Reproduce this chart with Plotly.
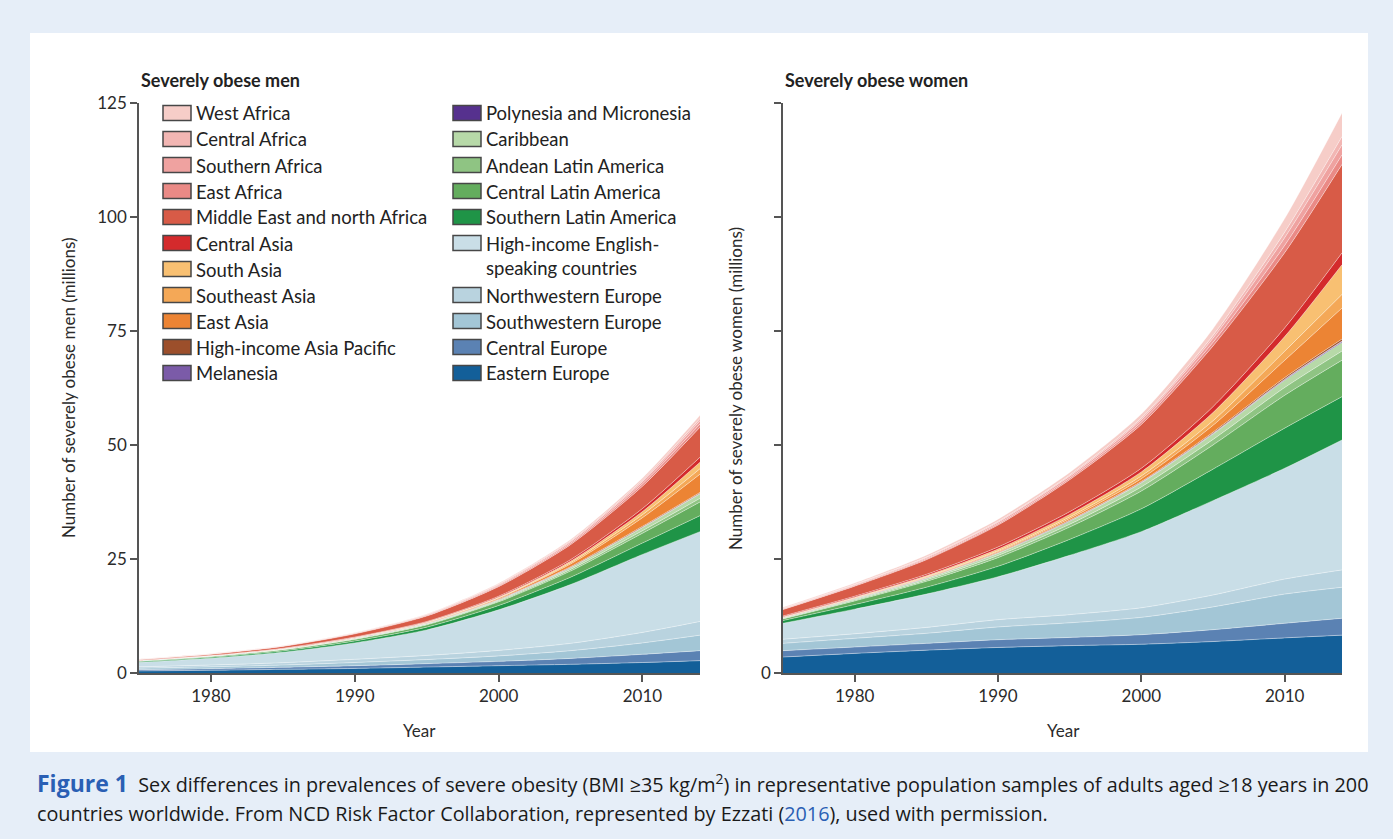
import plotly.graph_objects as go

W, H = 1393, 839

# ---------------- data ----------------
years = [1975, 1980, 1985, 1990, 1995, 2000, 2005, 2010, 2014]

# stacking order: bottom -> top
regions = [
    "Eastern Europe", "Central Europe", "Southwestern Europe", "Northwestern Europe",
    "High-income English-speaking countries", "Southern Latin America", "Central Latin America",
    "Andean Latin America", "Caribbean", "Polynesia and Micronesia", "Melanesia",
    "High-income Asia Pacific", "East Asia", "Southeast Asia", "South Asia", "Central Asia",
    "Middle East and north Africa", "East Africa", "Southern Africa", "Central Africa", "West Africa",
]

colors = [
    "#135f99", "#5b82b3", "#a3c6d6", "#b9d3df",
    "#c9dee7", "#1f9447", "#64ad5e",
    "#8fc483", "#b7d9a8", "#56318e", "#7b5ba8",
    "#9c4f2b", "#ec8434", "#f4a857", "#f8c072", "#d42a2c",
    "#d85b47", "#ea8a86", "#efa2a0", "#f2b6b3", "#f6cdc8",
]

# Severely obese men (millions)
men_eastern_europe = [0.45, 0.6, 0.8, 1.0, 1.3, 1.6, 1.9, 2.3, 2.7]
men_central_europe = [0.3, 0.35, 0.45, 0.6, 0.75, 0.95, 1.3, 1.8, 2.2]
men_southwestern_europe = [0.3, 0.4, 0.5, 0.7, 0.9, 1.2, 1.7, 2.5, 3.4]
men_northwestern_europe = [0.3, 0.4, 0.5, 0.7, 0.9, 1.2, 1.6, 2.3, 3.0]
men_hi_english = [1.0, 1.5, 2.3, 3.6, 5.6, 8.9, 12.9, 17.1, 19.7]
men_southern_latam = [0.15, 0.2, 0.3, 0.42, 0.6, 0.95, 1.6, 2.5, 3.5]
men_central_latam = [0.15, 0.18, 0.25, 0.35, 0.5, 0.8, 1.35, 2.15, 3.0]
men_andean_latam = [0.04, 0.05, 0.07, 0.1, 0.14, 0.2, 0.35, 0.55, 0.8]
men_caribbean = [0.06, 0.07, 0.08, 0.13, 0.16, 0.25, 0.4, 0.7, 1.0]
men_polynesia = [0.01, 0.01, 0.015, 0.02, 0.025, 0.03, 0.04, 0.05, 0.06]
men_melanesia = [0.005, 0.007, 0.01, 0.013, 0.017, 0.02, 0.03, 0.04, 0.05]
men_hi_asia_pacific = [0.02, 0.03, 0.04, 0.05, 0.07, 0.1, 0.13, 0.17, 0.2]
men_east_asia = [0.01, 0.02, 0.03, 0.05, 0.09, 0.2, 0.6, 1.9, 4.0]
men_southeast_asia = [0.01, 0.015, 0.02, 0.035, 0.06, 0.12, 0.3, 0.65, 1.2]
men_south_asia = [0.01, 0.015, 0.02, 0.035, 0.06, 0.12, 0.3, 0.7, 1.4]
men_central_asia = [0.02, 0.03, 0.05, 0.08, 0.12, 0.2, 0.35, 0.65, 1.1]
men_mena = [0.15, 0.25, 0.4, 0.7, 1.2, 2.1, 3.3, 4.9, 6.6]
men_east_africa = [0.02, 0.03, 0.05, 0.08, 0.12, 0.2, 0.3, 0.5, 0.7]
men_southern_africa = [0.03, 0.05, 0.07, 0.1, 0.15, 0.22, 0.33, 0.5, 0.7]
men_central_africa = [0.01, 0.02, 0.03, 0.05, 0.08, 0.13, 0.2, 0.33, 0.5]
men_west_africa = [0.02, 0.03, 0.05, 0.08, 0.12, 0.2, 0.3, 0.48, 0.7]

# Severely obese women (millions)
women_eastern_europe = [3.5, 4.3, 5.0, 5.6, 6.0, 6.3, 6.9, 7.7, 8.3]
women_central_europe = [1.4, 1.4, 1.5, 1.7, 1.8, 2.1, 2.6, 3.2, 3.7]
women_southwestern_europe = [1.6, 1.9, 2.2, 2.8, 3.2, 3.8, 5.0, 6.4, 6.8]
women_northwestern_europe = [0.9, 1.0, 1.3, 1.6, 1.8, 2.1, 2.6, 3.3, 3.8]
women_hi_english = [3.5, 5.4, 7.3, 9.4, 13.0, 16.7, 20.7, 24.3, 28.5]
women_southern_latam = [0.6, 1.0, 1.5, 2.3, 3.5, 5.0, 6.9, 8.8, 9.5]
women_central_latam = [0.35, 0.8, 1.3, 1.9, 2.7, 3.9, 5.3, 7.2, 8.0]
women_andean_latam = [0.1, 0.2, 0.3, 0.45, 0.6, 0.9, 1.2, 1.7, 2.0]
women_caribbean = [0.15, 0.25, 0.35, 0.5, 0.7, 0.9, 1.2, 1.6, 1.9]
women_polynesia = [0.02, 0.03, 0.04, 0.05, 0.06, 0.08, 0.1, 0.14, 0.18]
women_melanesia = [0.01, 0.015, 0.02, 0.03, 0.04, 0.05, 0.06, 0.08, 0.1]
women_hi_asia_pacific = [0.04, 0.06, 0.08, 0.1, 0.13, 0.17, 0.25, 0.35, 0.45]
women_east_asia = [0.05, 0.08, 0.12, 0.2, 0.35, 0.6, 1.5, 3.8, 6.8]
women_southeast_asia = [0.05, 0.08, 0.12, 0.2, 0.35, 0.6, 1.0, 2.0, 3.0]
women_south_asia = [0.08, 0.12, 0.2, 0.35, 0.55, 0.9, 1.8, 3.2, 6.5]
women_central_asia = [0.15, 0.2, 0.3, 0.45, 0.6, 0.8, 1.3, 1.9, 2.6]
women_mena = [1.4, 2.2, 3.2, 4.8, 7.0, 9.6, 13.3, 16.5, 19.4]
women_east_africa = [0.1, 0.15, 0.2, 0.27, 0.35, 0.5, 0.8, 1.6, 2.1]
women_southern_africa = [0.12, 0.17, 0.25, 0.33, 0.4, 0.55, 0.9, 1.7, 2.2]
women_central_africa = [0.08, 0.1, 0.15, 0.2, 0.25, 0.35, 0.6, 1.2, 1.8]
women_west_africa = [0.2, 0.28, 0.4, 0.5, 0.6, 0.9, 1.5, 3.0, 5.2]

men_series = [
    men_eastern_europe, men_central_europe, men_southwestern_europe, men_northwestern_europe,
    men_hi_english, men_southern_latam, men_central_latam, men_andean_latam, men_caribbean,
    men_polynesia, men_melanesia, men_hi_asia_pacific, men_east_asia, men_southeast_asia,
    men_south_asia, men_central_asia, men_mena, men_east_africa, men_southern_africa,
    men_central_africa, men_west_africa,
]
women_series = [
    women_eastern_europe, women_central_europe, women_southwestern_europe, women_northwestern_europe,
    women_hi_english, women_southern_latam, women_central_latam, women_andean_latam, women_caribbean,
    women_polynesia, women_melanesia, women_hi_asia_pacific, women_east_asia, women_southeast_asia,
    women_south_asia, women_central_asia, women_mena, women_east_africa, women_southern_africa,
    women_central_africa, women_west_africa,
]

y_ticks = [0, 25, 50, 75, 100, 125]
x_ticks = [1980, 1990, 2000, 2010]

# ---------------- figure ----------------
FONT = "Lato"
CAPFONT = "Open Sans"
AX = "#555555"
TXT = "#2b2b2b"


def px(x):
    return x / W


def py(y):
    return 1 - y / H


fig = go.Figure()

for name, col, m, w in zip(regions, colors, men_series, women_series):
    fig.add_trace(go.Scatter(
        x=years, y=m, name=name, mode="lines", stackgroup="men",
        fillcolor=col, line=dict(color="rgba(255,255,255,0.55)", width=0.7, shape="spline", smoothing=0.7),
        hoverinfo="skip", showlegend=False, xaxis="x", yaxis="y"))
    fig.add_trace(go.Scatter(
        x=years, y=w, name=name, mode="lines", stackgroup="women",
        fillcolor=col, line=dict(color="rgba(255,255,255,0.55)", width=0.7, shape="spline", smoothing=0.7),
        hoverinfo="skip", showlegend=False, xaxis="x2", yaxis="y2"))

y_dom = [(H - 673) / H, (H - 103) / H]
axis_common = dict(
    showline=True, linecolor=AX, linewidth=1.5, ticks="outside", ticklen=7,
    tickwidth=1.5, tickcolor=AX, showgrid=False, zeroline=False,
    tickfont=dict(family=FONT, size=17, color=TXT), automargin=False, fixedrange=True,
)

fig.update_layout(
    width=W, height=H,
    margin=dict(l=0, r=0, t=0, b=0),
    paper_bgcolor="#e6eef8",
    plot_bgcolor="rgba(0,0,0,0)",
    showlegend=False,
    xaxis=dict(domain=[139 / W, 700 / W], range=[1975, 2014], tickvals=x_ticks, anchor="y", **axis_common),
    yaxis=dict(domain=y_dom, range=[0, 125], tickvals=y_ticks, anchor="x", **axis_common),
    xaxis2=dict(domain=[783 / W, 1342 / W], range=[1975, 2014], tickvals=x_ticks, anchor="y2", **axis_common),
    yaxis2=dict(domain=y_dom, range=[0, 125], tickvals=[0], anchor="x2",
                minor=dict(tickvals=y_ticks[1:], ticks="outside", ticklen=7, tickwidth=1.5, tickcolor=AX,
                           showgrid=False),
                **axis_common),
)

# white panel
fig.add_shape(type="rect", xref="paper", yref="paper", x0=px(30), x1=px(1368), y0=py(752), y1=py(33),
              fillcolor="white", line=dict(width=0), layer="below")

annotations = []

# panel titles
annotations.append(dict(text="<b>Severely obese men</b>", x=px(139), y=py(80), xanchor="left", yanchor="middle",
                        font=dict(family=FONT, size=18, color="#222")))
annotations.append(dict(text="<b>Severely obese women</b>", x=px(783), y=py(80), xanchor="left", yanchor="middle",
                        font=dict(family=FONT, size=18, color="#222")))

# axis titles
annotations.append(dict(text="Number of severely obese men (millions)", x=px(68), y=py(388), textangle=-90,
                        xanchor="center", yanchor="middle", font=dict(family=FONT, size=17, color=TXT)))
annotations.append(dict(text="Number of severely obese women (millions)", x=px(735), y=py(388), textangle=-90,
                        xanchor="center", yanchor="middle", font=dict(family=FONT, size=17, color=TXT)))
annotations.append(dict(text="Year", x=px(420), y=py(730), xanchor="center", yanchor="middle",
                        font=dict(family=FONT, size=17, color=TXT)))
annotations.append(dict(text="Year", x=px(1063), y=py(730), xanchor="center", yanchor="middle",
                        font=dict(family=FONT, size=17, color=TXT)))

# manual legend (two columns, top of stack first)
legend_order = list(zip(regions, colors))[::-1]
col1 = legend_order[:11]
col2 = legend_order[11:]
row0, row_h = 113, 26
for items, bx in [(col1, 163), (col2, 453)]:
    row = 0
    for name, col in items:
        yc = row0 + row * row_h
        label = name
        nlines = 1
        if name.startswith("High-income English"):
            label = "High-income English-<br>speaking countries"
            nlines = 2
        fig.add_shape(type="rect", xref="paper", yref="paper", x0=px(bx), x1=px(bx + 28),
                      y0=py(yc + 7.5), y1=py(yc - 7.5), fillcolor=col, line=dict(color="#474747", width=1.5))
        annotations.append(dict(text=label, x=px(bx + 31), y=py(yc - 12.5), xanchor="left", yanchor="top",
                                align="left", font=dict(family=FONT, size=18.5, color="#222")))
        row += nlines

# caption
annotations.append(dict(
    text="<span style='color:#2a5fb4;font-size:23px'><b>Figure 1</b></span>  Sex differences in prevalences of severe obesity "
         "(BMI ≥35 kg/m<sup>2</sup>) in representative population samples of adults aged ≥18 years in 200",
    x=px(35), y=py(783), xanchor="left", yanchor="middle", align="left",
    font=dict(family=CAPFONT, size=19.8, color="#1a1a1a")))
annotations.append(dict(
    text="countries worldwide. From NCD Risk Factor Collaboration, represented by Ezzati "
         "(<span style='color:#2a5fb4'>2016</span>), used with permission.",
    x=px(35), y=py(813), xanchor="left", yanchor="middle", align="left",
    font=dict(family=CAPFONT, size=19.8, color="#1a1a1a")))

for a in annotations:
    a.setdefault("xref", "paper")
    a.setdefault("yref", "paper")
    a.setdefault("showarrow", False)
fig.update_layout(annotations=annotations)

fig.write_html("out.html", config={"displayModeBar": False},
               post_script="document.body.style.margin='0px';document.body.style.overflow='hidden';")
